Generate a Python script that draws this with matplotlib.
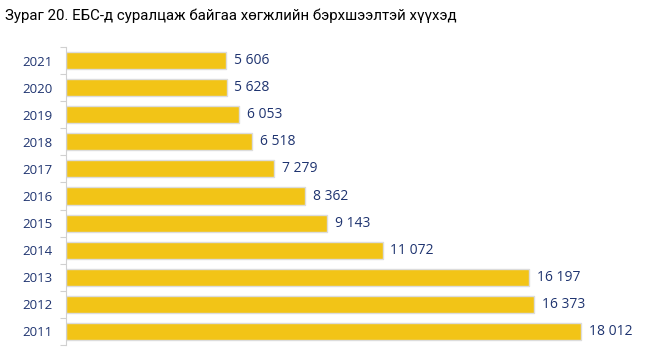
import numpy as np
import matplotlib as mpl
import matplotlib.pyplot as plt

# data
years = ["2021", "2020", "2019", "2018", "2017", "2016", "2015", "2014", "2013", "2012", "2011"]
values = [5606, 5628, 6053, 6518, 7279, 8362, 9143, 11072, 16197, 16373, 18012]
title = "Зураг 20. ЕБС-д суралцаж байгаа хөгжлийн бэрхшээлтэй хүүхэд"

bar_color = "#F2C417"
text_color = "#1F3470"

mpl.rcParams["font.family"] = ["Open Sans", "DejaVu Sans"]

fig = plt.figure(figsize=[6.51, 3.63], dpi=100)
ax = fig.add_axes([66 / 651, 1 - 345 / 363, 572 / 651, 298 / 363])

# y positions, top to bottom
y = np.arange(len(years))
ax.barh(y, values, height=0.63, color=bar_color, edgecolor="#dcdcdc", linewidth=1.0)

# value labels
for yi, v in zip(y, values):
    lab = f"{v:,}".replace(",", " ")
    ax.text(v + 260, yi, lab, va="center", ha="left", fontsize=10, color=text_color)

# axes settings
ax.set_xlim([0, 20000])
ax.set_ylim([len(years) - 0.5, -0.5])
ax.set_yticks(y)
ax.set_yticklabels(years, fontsize=9.5, color=text_color)
ax.set_yticks(np.arange(len(years) + 1) - 0.5, minor=True)
ax.tick_params(axis="y", which="major", length=0, pad=10)
ax.tick_params(axis="y", which="minor", length=4, color="#d0d0d0", width=0.8)
ax.set_xticks([])
for s in ["top", "right", "bottom"]:
    ax.spines[s].set_visible(False)
ax.spines["left"].set_color("#d0d0d0")
ax.spines["left"].set_linewidth(0.8)

fig.text(5 / 651, 1 - 16 / 363, title, fontsize=10.8, family="Roboto",
         va="center", ha="left", color="#000000")

plt.savefig("out.png", dpi=100)
plt.close("all")
